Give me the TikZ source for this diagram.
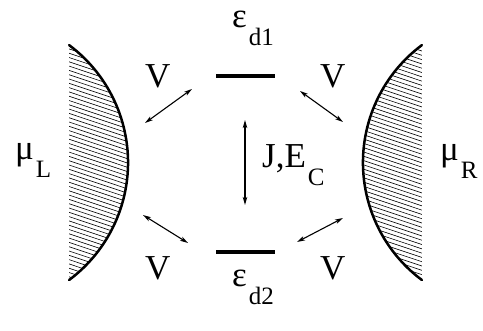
\documentclass[tikz,border=0pt]{standalone}
\usepackage{fontspec}
\setmainfont{Liberation Serif}
\usetikzlibrary{arrows.meta,positioning}
\newcommand{\lowsub}[1]{\hspace{2pt}\raisebox{-18pt}{\fontsize{25}{27}\selectfont #1}}

\begin{document}
\begin{tikzpicture}[
  x=1pt,y=1pt,
  level/.style={fill=black,inner sep=0pt,minimum width=59pt,minimum height=4pt},
  lbl/.style={anchor=base west,inner sep=0pt,font=\fontsize{35}{38}\selectfont},
  lead/.style={line width=2.5pt,line cap=round},
  hatch/.style={line width=0.6pt},
  arrow/.style={{Stealth[length=8pt,width=4.5pt,inset=2pt]}-{Stealth[length=8pt,width=4.5pt,inset=2pt]},line width=1.1pt}
]
\useasboundingbox (0,0) rectangle (483,331);
\begin{scope}
  \clip (69.1,285.9) arc[start angle=53.3,end angle=-53.3,radius=146.5] -- cycle;
  \foreach \c in {40,44.3,...,340} \draw[hatch] (60,\c) -- (140,\c-26.7);
\end{scope}
\begin{scope}
  \clip (421.9,285.9) arc[start angle=126.7,end angle=233.3,radius=146.5] -- cycle;
  \foreach \c in {40,44.3,...,340} \draw[hatch] (355,\c) -- (435,\c-26.7);
\end{scope}
\draw[lead] (69.1,285.9) arc[start angle=53.3,end angle=-53.3,radius=146.5];
\draw[lead] (421.9,285.9) arc[start angle=126.7,end angle=233.3,radius=146.5];
\node[level] (d1) at (245.5,255) {};
\node[level] (d2) at (245.5,79) {};
\node[lbl] (e1) at (232,303) {ε\lowsub{d1}};
\node[lbl] (e2) at (232,44) {ε\lowsub{d2}};
\node[lbl] (muL) at (15,171) {μ\lowsub{L}};
\node[lbl] (muR) at (440,170) {μ\lowsub{R}};
\node[lbl] (v1) at (145,243) {V};
\node[lbl] (v2) at (320,243) {V};
\node[lbl] (v3) at (145,51) {V};
\node[lbl] (v4) at (320,51) {V};
\node[lbl] (jec) at (262,163) {J,E\lowsub{C}};
\coordinate (tl1) at (145,208);
\coordinate (tl2) at (192,242);
\coordinate (tr1) at (300,240);
\coordinate (tr2) at (343,209);
\coordinate (bl1) at (143,116);
\coordinate (bl2) at (188,88);
\coordinate (br1) at (297,89);
\coordinate (br2) at (343,113);
\coordinate (j1) at (245,211);
\coordinate (j2) at (245,126);
\draw[arrow] (tl1) -- (tl2);
\draw[arrow] (tr1) -- (tr2);
\draw[arrow] (bl1) -- (bl2);
\draw[arrow] (br1) -- (br2);
\draw[arrow] (j1) -- (j2);
\end{tikzpicture}
\end{document}
